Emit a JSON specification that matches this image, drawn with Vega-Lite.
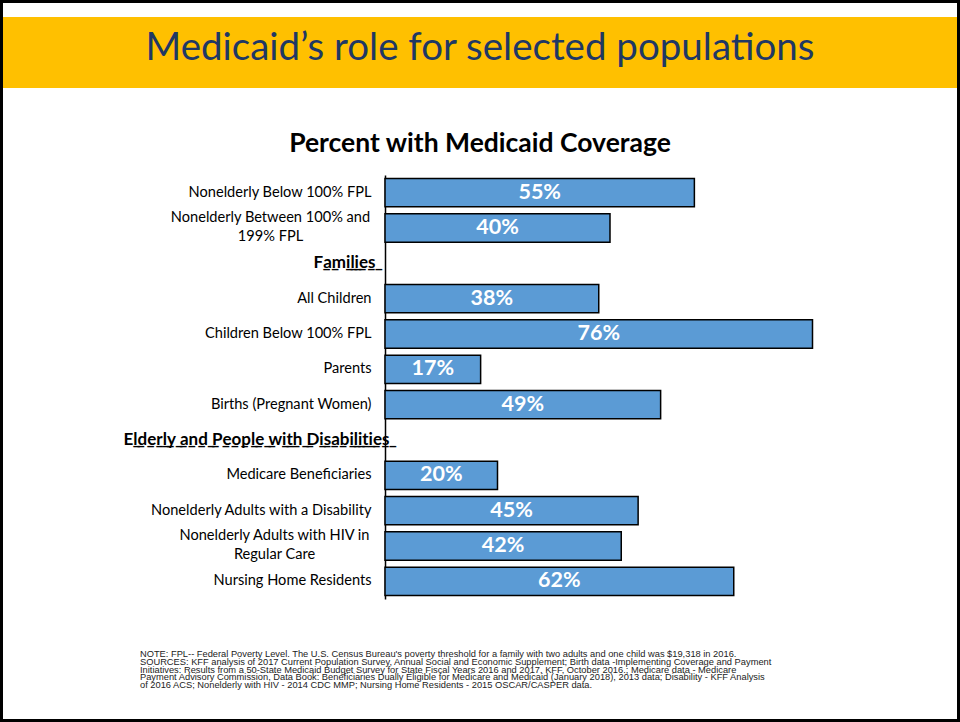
{
  "$schema": "https://vega.github.io/schema/vega-lite/v6.json",
  "width": 960,
  "height": 722,
  "padding": 0,
  "autosize": {"type": "none"},
  "background": "white",
  "config": {"view": {"stroke": null}, "font": "Lato"},
  "resolve": {"scale": {"x": "independent", "y": "independent"}},
  "layer": [
    {
      "data": {"values": [{"slide": "Medicaid’s role for selected populations"}]},
      "layer": [
        {
          "mark": {"type": "bar", "color": "#FFC000"},
          "encoding": {
            "y": {"field": "slide", "type": "nominal", "scale": {"range": [17, 88], "paddingInner": 0, "paddingOuter": 0}, "axis": null}
          }
        },
        {
          "mark": {"type": "text", "font": "Lato", "fontSize": 38.5, "color": "#1F3864", "baseline": "alphabetic", "dy": 7},
          "encoding": {
            "y": {"field": "slide", "type": "nominal", "axis": null},
            "text": {"field": "slide"}
          }
        }
      ]
    },
    {
      "data": {"values": [{"chart": "Percent with Medicaid Coverage"}]},
      "mark": {"type": "text", "font": "Lato", "fontWeight": "bold", "fontSize": 26.5, "color": "#000000", "baseline": "alphabetic"},
      "encoding": {
        "y": {"field": "chart", "type": "nominal", "scale": {"type": "point", "range": [152, 152]}, "axis": null},
        "text": {"field": "chart"}
      }
    },
    {
      "data": {
        "values": [
          {"category": "Nonelderly Below 100% FPL", "value": 0.55},
          {"category": "Nonelderly Between 100% and 199% FPL", "value": 0.40},
          {"category": "Families", "value": null},
          {"category": "All Children", "value": 0.38},
          {"category": "Children Below 100% FPL", "value": 0.76},
          {"category": "Parents", "value": 0.17},
          {"category": "Births (Pregnant Women)", "value": 0.49},
          {"category": "Elderly and People with Disabilities", "value": null},
          {"category": "Medicare Beneficiaries", "value": 0.20},
          {"category": "Nonelderly Adults with a Disability", "value": 0.45},
          {"category": "Nonelderly Adults with HIV in Regular Care", "value": 0.42},
          {"category": "Nursing Home Residents", "value": 0.62}
        ]
      },
      "encoding": {
        "y": {
          "field": "category",
          "type": "nominal",
          "sort": null,
          "scale": {
            "domain": ["Nonelderly Below 100% FPL", "Nonelderly Between 100% and 199% FPL", "Families", "All Children", "Children Below 100% FPL", "Parents", "Births (Pregnant Women)", "Elderly and People with Disabilities", "Medicare Beneficiaries", "Nonelderly Adults with a Disability", "Nonelderly Adults with HIV in Regular Care", "Nursing Home Residents"],
            "range": [175, 599],
            "paddingInner": 0.2,
            "paddingOuter": 0.1
          },
          "axis": {
            "title": null,
            "offset": -385,
            "ticks": false,
            "grid": false,
            "domainColor": "#000000",
            "domainWidth": 1.5,
            "labelFont": "Lato",
            "labelColor": "#000000",
            "labelLimit": 500,
            "labelOverlap": false,
            "labelLineHeight": 19,
            "labelPadding": {
              "condition": [
                {"test": "datum.value == 'Nonelderly Between 100% and 199% FPL'", "value": 115},
                {"test": "datum.value == 'Nonelderly Adults with HIV in Regular Care'", "value": 111},
                {"test": "datum.value == 'Families'", "value": 10},
                {"test": "datum.value == 'Elderly and People with Disabilities'", "value": -4}
              ],
              "value": 14
            },
            "labelOffset": {
              "condition": {"test": "datum.value == 'Nonelderly Between 100% and 199% FPL' || datum.value == 'Nonelderly Adults with HIV in Regular Care'", "value": -10},
              "value": 0
            },
            "labelFontSize": {"condition": {"test": "datum.value == 'Families' || datum.value == 'Elderly and People with Disabilities'", "value": 17}, "value": 14.6},
            "labelFontWeight": {"condition": {"test": "datum.value == 'Families' || datum.value == 'Elderly and People with Disabilities'", "value": "bold"}, "value": "normal"},
            "labelAlign": {"condition": {"test": "datum.value == 'Nonelderly Between 100% and 199% FPL' || datum.value == 'Nonelderly Adults with HIV in Regular Care'", "value": "center"}, "value": "right"},
            "labelExpr": "datum.value == 'Nonelderly Between 100% and 199% FPL' ? ['Nonelderly Between 100% and', '199% FPL'] : datum.value == 'Nonelderly Adults with HIV in Regular Care' ? ['Nonelderly Adults with HIV in', 'Regular Care'] : (datum.value == 'Families' || datum.value == 'Elderly and People with Disabilities') ? replace(datum.value, regexp('(.)', 'g'), '$1\u0332') : datum.value"
          }
        }
      },
      "layer": [
        {
          "mark": {"type": "bar", "fill": "#5B9BD5", "stroke": "#000000", "strokeWidth": 1.5},
          "encoding": {
            "x": {"field": "value", "type": "quantitative", "scale": {"domain": [0, 0.8], "range": [385, 835]}, "axis": null}
          }
        },
        {
          "transform": [{"filter": "datum.value != null"}, {"calculate": "datum.value / 2", "as": "mid"}],
          "mark": {"type": "text", "color": "#FFFFFF", "font": "Lato", "fontWeight": "bold", "fontSize": 21.5},
          "encoding": {
            "x": {"field": "mid", "type": "quantitative"},
            "text": {"field": "value", "type": "quantitative", "format": ".0%"}
          }
        }
      ]
    },
    {
      "data": {
        "values": [
          {
            "section": "Notes",
            "lines": [
              "NOTE: FPL-- Federal Poverty Level. The U.S. Census Bureau's poverty threshold for a family with two adults and one child was $19,318 in 2016.",
              "SOURCES: KFF analysis of 2017 Current Population Survey,  Annual Social and Economic Supplement; Birth data -Implementing Coverage and Payment",
              "Initiatives: Results from a 50-State Medicaid Budget Survey for State Fiscal Years 2016 and 2017, KFF, October 2016.; Medicare data - Medicare",
              "Payment Advisory Commission, Data Book: Beneficiaries Dually Eligible for Medicare and Medicaid (January 2018), 2013 data; Disability - KFF Analysis",
              "of 2016 ACS; Nonelderly with HIV - 2014 CDC MMP; Nursing Home Residents - 2015 OSCAR/CASPER data."
            ]
          }
        ]
      },
      "mark": {"type": "text", "font": "Liberation Sans", "fontSize": 9.3, "lineHeight": 7.8, "align": "left", "baseline": "alphabetic", "dx": -340, "color": "#222222"},
      "encoding": {
        "y": {"field": "section", "type": "nominal", "scale": {"type": "point", "range": [657, 657]}, "axis": null},
        "text": {"field": "lines"}
      }
    },
    {
      "data": {"values": [{"frame": "page"}]},
      "mark": {"type": "rect", "filled": false, "stroke": "#000000", "strokeWidth": 6},
      "encoding": {}
    }
  ]
}
